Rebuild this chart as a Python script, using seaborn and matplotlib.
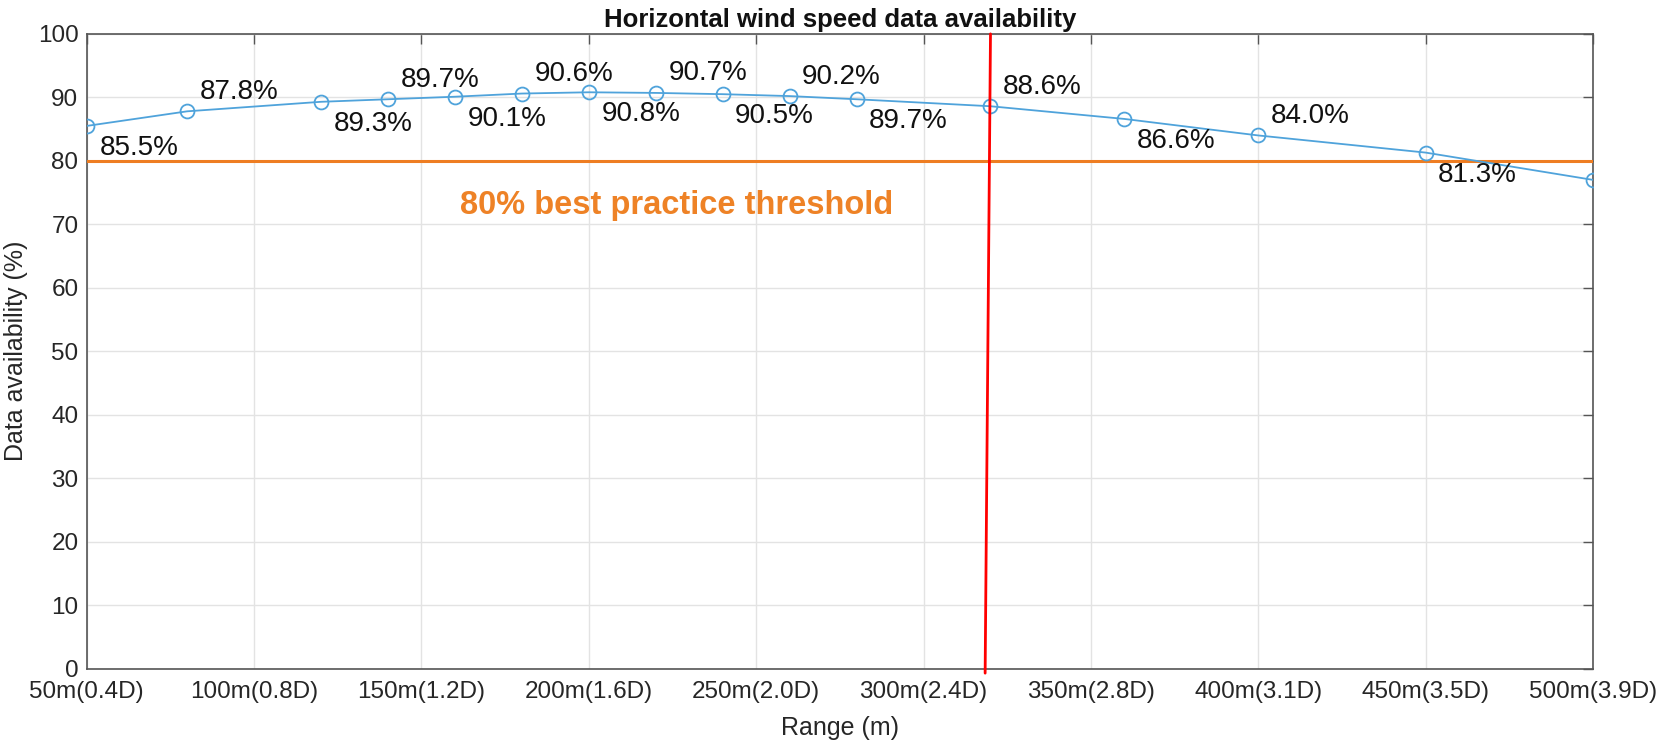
import matplotlib
matplotlib.use("Agg")
import matplotlib.pyplot as plt
import numpy as np
import pandas as pd
import seaborn as sns

# Measurement ranges (m) and horizontal wind speed availability (%)
range_m = [50, 80, 120, 140, 160, 180, 200, 220, 240, 260, 280, 320, 360, 400, 450, 500]
availability = [85.5, 87.8, 89.3, 89.7, 90.1, 90.6, 90.8, 90.7, 90.5, 90.2, 89.7,
                88.6, 86.6, 84.0, 81.3, 77.0]
# Which points carry a value label, and on which side
label_side = ["below", "above", "below", "above", "below", "above", "below", "above",
              "below", "above", "below", "above", "below", "above", "below", None]

x_ticks = [50, 100, 150, 200, 250, 300, 350, 400, 450, 500]
x_tick_labels = ["50m(0.4D)", "100m(0.8D)", "150m(1.2D)", "200m(1.6D)", "250m(2.0D)",
                 "300m(2.4D)", "350m(2.8D)", "400m(3.1D)", "450m(3.5D)", "500m(3.9D)"]
y_ticks = [0, 10, 20, 30, 40, 50, 60, 70, 80, 90, 100]

threshold = 80
threshold_text = "80% best practice threshold"
marker_range = [320, 318.4]   # slightly slanted vertical marker, top to bottom
marker_y = [100, -0.7]

sns.set_theme(style="white")
plt.rcParams["font.family"] = ["Liberation Sans", "DejaVu Sans"]

df = pd.DataFrame({"range": range_m, "availability": availability})

fig = plt.figure(figsize=(16.59, 7.46), dpi=100)
ax = fig.add_axes([0.0523, 0.1036, 0.9079, 0.851])

line_color = "#4FA3DB"
sns.lineplot(data=df, x="range", y="availability", ax=ax, color=line_color,
             linewidth=1.3, marker="o", markersize=10, markerfacecolor="none",
             markeredgecolor=line_color, markeredgewidth=1.3, zorder=4)

ax.axhline(threshold, color="#EE7D22", linewidth=2.2, zorder=3)
ax.plot(marker_range, marker_y, color="#FF0000", linewidth=2.0, clip_on=False, zorder=5)

for xv, yv, side in zip(range_m, availability, label_side):
    if side is None:
        continue
    dy = -16 if side == "below" else 14
    ax.annotate(f"{yv:.1f}%", (xv, yv), xytext=(9, dy), textcoords="offset points",
                ha="left", va="center", fontsize=20, color="#111111", zorder=6)

ax.text(161.5, 73.0, threshold_text, color="#EE8226", fontsize=23.5,
        fontweight="bold", ha="left", va="center")

ax.set_xlim(50, 500)
ax.set_ylim(0, 100)
ax.set_xticks(x_ticks)
ax.set_xticklabels(x_tick_labels)
ax.set_yticks(y_ticks)

ax.grid(True, color="#e3e3e3", linewidth=1.0)
ax.set_axisbelow(True)
for sp in ax.spines.values():
    sp.set_visible(True)
    sp.set_color("#555555")
    sp.set_linewidth(1.2)

ax.tick_params(axis="both", which="both", direction="in", length=7.5, width=1.0,
               color="#555555", top=True, right=True, labelsize=17.5,
               labelcolor="#262626", pad=6)
ax.tick_params(axis="x", pad=9)

ax.set_xlabel("Range (m)", fontsize=18, color="#262626", labelpad=9)
ax.set_ylabel("Data availability (%)", fontsize=18, color="#262626", labelpad=7)
ax.set_title("Horizontal wind speed data availability", fontsize=18.5,
             fontweight="bold", color="#111111", pad=5)

fig.savefig("out.png", dpi=100)
